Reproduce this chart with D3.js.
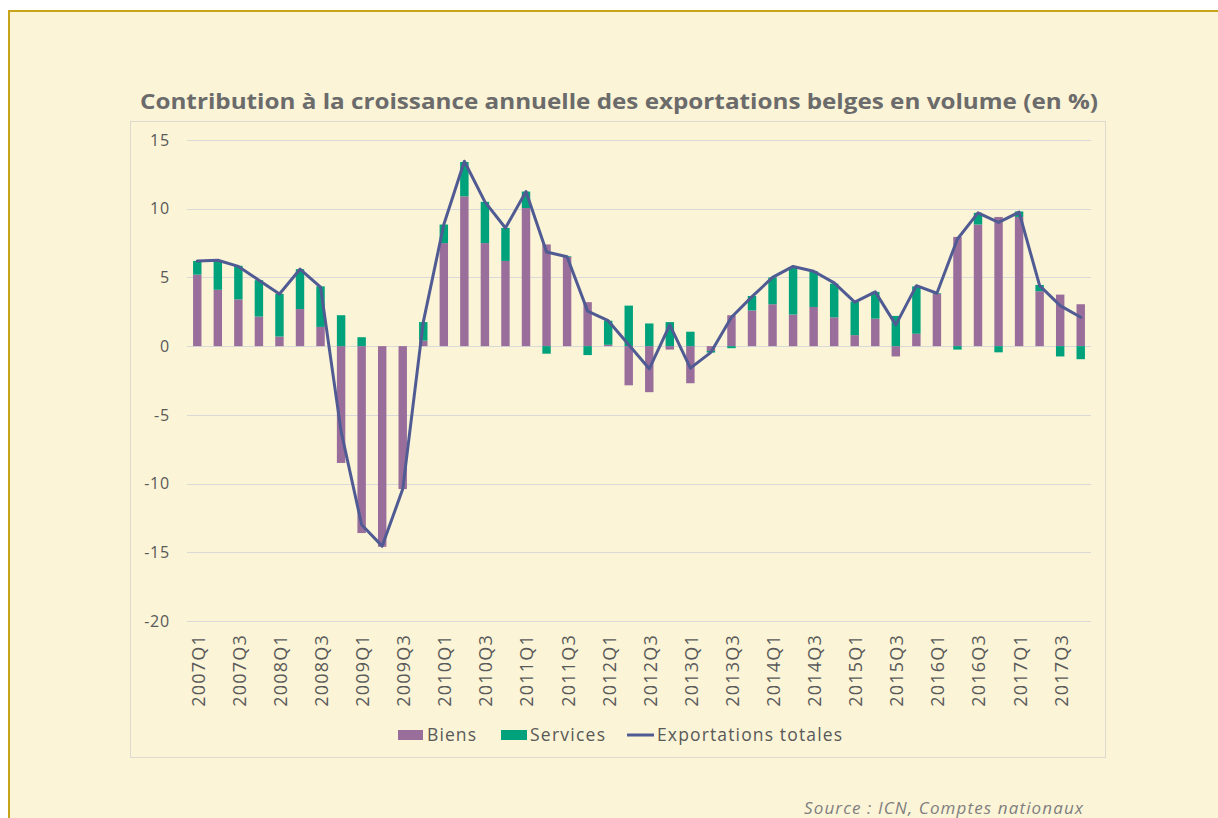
<!DOCTYPE html>
<html lang="fr">
<head>
    <meta charset="UTF-8">
    <title>Exportations belges</title>
    <script src="https://d3js.org/d3.v7.min.js"></script>
</head>
<style>
    html, body {
        margin: 0;
        padding: 0;
        background: #fff;
    }
    text {
        font-family: "Open Sans", sans-serif;
    }
</style>
<body>
<svg id="chart" width="1218" height="818"></svg>

<script>
    // data
    var quarters = [
        '2007Q1', '2007Q2', '2007Q3', '2007Q4',
        '2008Q1', '2008Q2', '2008Q3', '2008Q4',
        '2009Q1', '2009Q2', '2009Q3', '2009Q4',
        '2010Q1', '2010Q2', '2010Q3', '2010Q4',
        '2011Q1', '2011Q2', '2011Q3', '2011Q4',
        '2012Q1', '2012Q2', '2012Q3', '2012Q4',
        '2013Q1', '2013Q2', '2013Q3', '2013Q4',
        '2014Q1', '2014Q2', '2014Q3', '2014Q4',
        '2015Q1', '2015Q2', '2015Q3', '2015Q4',
        '2016Q1', '2016Q2', '2016Q3', '2016Q4',
        '2017Q1', '2017Q2', '2017Q3', '2017Q4'
    ]
    var biens = [
        5.2, 4.1, 3.4, 2.15,
        0.7, 2.7, 1.4, -8.5,
        -13.6, -14.6, -10.4, 0.4,
        7.5, 10.9, 7.5, 6.2,
        10.05, 7.4, 6.5, 3.2,
        0.1, -2.85, -3.35, -0.25,
        -2.7, -0.35, 2.25, 2.6,
        3.05, 2.3, 2.85, 2.1,
        0.8, 2.0, -0.75, 0.9,
        3.8, 7.95, 8.85, 9.4,
        9.4, 4.0, 3.75, 3.05
    ]
    var services = [
        1.0, 2.1, 2.45, 2.65,
        3.1, 2.9, 2.95, 2.25,
        0.65, 0, 0, 1.35,
        1.35, 2.5, 3.0, 2.4,
        1.2, -0.55, 0.05, -0.65,
        1.75, 2.95, 1.65, 1.75,
        1.05, -0.12, -0.15, 1.05,
        1.95, 3.45, 2.6, 2.45,
        2.45, 1.95, 2.2, 3.45,
        0.05, -0.25, 0.85, -0.45,
        0.4, 0.45, -0.75, -0.95
    ]
    var totales = [
        6.2, 6.25, 5.8, 4.8,
        3.8, 5.6, 4.3, -6.2,
        -13.0, -14.55, -10.4, 1.75,
        8.85, 13.45, 10.5, 8.6,
        11.25, 6.85, 6.5, 2.55,
        1.85, 0.1, -1.65, 1.55,
        -1.6, -0.45, 2.1, 3.6,
        5.0, 5.8, 5.45, 4.6,
        3.2, 3.95, 1.55, 4.4,
        3.85, 7.8, 9.7, 9.0,
        9.75, 4.4, 2.95, 2.1
    ]
    var yTicks = [-20, -15, -10, -5, 0, 5, 10, 15]

    var colorBiens = '#9a6e9b'
    var colorServices = '#00a27b'
    var colorLine = '#505b93'
    var colorBg = '#fbf4d7'
    var colorText = '#595959'

    var svg = d3.select('#chart')

    // outer frame
    svg.append('rect')
        .attr('x', 9).attr('y', 11)
        .attr('width', 1230).attr('height', 830)
        .attr('fill', colorBg)
        .attr('stroke', '#c8a41a')
        .attr('stroke-width', 2)

    // chart box
    svg.append('rect')
        .attr('x', 130.5).attr('y', 121.5)
        .attr('width', 975).attr('height', 636)
        .attr('fill', colorBg)
        .attr('stroke', '#dedad0')
        .attr('stroke-width', 1)

    svg.append('text')
        .attr('x', 619).attr('y', 109)
        .attr('text-anchor', 'middle')
        .attr('fill', '#6b6b6b')
        .style('font-weight', 'bold')
        .style('font-size', '21px')
        .attr('textLength', 958)
        .attr('lengthAdjust', 'spacingAndGlyphs')
        .text('Contribution à la croissance annuelle des exportations belges en volume (en %)')

    var x = d3.scaleBand()
        .domain(quarters)
        .range([187, 1091])
        .paddingInner(0.59)
        .paddingOuter(0.295)

    var y = d3.scaleLinear()
        .domain([-20, 15])
        .range([621, 140])

    // grid lines
    svg.append('g').selectAll('line')
        .data(yTicks)
        .enter().append('line')
        .attr('x1', 187).attr('x2', 1091)
        .attr('y1', function (d) { return Math.round(y(d)) + 0.5 })
        .attr('y2', function (d) { return Math.round(y(d)) + 0.5 })
        .attr('stroke', '#d9d9d9')
        .attr('stroke-width', 1.2)

    svg.append('g').selectAll('text')
        .data(yTicks)
        .enter().append('text')
        .attr('x', 170)
        .attr('y', function (d) { return y(d) })
        .attr('dy', '0.36em')
        .attr('text-anchor', 'end')
        .attr('fill', colorText)
        .style('font-size', '16px')
        .style('letter-spacing', '0.8px')
        .text(function (d) { return d })

    // stacked bars
    var rows = quarters.map(function (q, i) {
        return {q: q, biens: biens[i], services: services[i]}
    })
    var stack = d3.stack()
        .keys(['biens', 'services'])
        .offset(d3.stackOffsetDiverging)
    var series = stack(rows)
    var colors = {biens: colorBiens, services: colorServices}

    svg.append('g').selectAll('g')
        .data(series)
        .enter().append('g')
        .attr('fill', function (s) { return colors[s.key] })
        .selectAll('rect')
        .data(function (s) { return s })
        .enter().append('rect')
        .attr('x', function (d) { return x(d.data.q) })
        .attr('width', x.bandwidth())
        .attr('y', function (d) { return y(Math.max(d[0], d[1])) })
        .attr('height', function (d) { return Math.abs(y(d[0]) - y(d[1])) })

    // total line
    var line = d3.line()
        .x(function (d, i) { return x(quarters[i]) + x.bandwidth() / 2 })
        .y(function (d) { return y(d) })

    svg.append('path')
        .datum(totales)
        .attr('d', line)
        .attr('fill', 'none')
        .attr('stroke', colorLine)
        .attr('stroke-width', 3)
        .attr('stroke-linejoin', 'round')
        .attr('stroke-linecap', 'round')

    // x labels, every second quarter
    svg.append('g').selectAll('text')
        .data(quarters.filter(function (q, i) { return i % 2 === 0 }))
        .enter().append('text')
        .attr('transform', function (q) {
            return 'translate(' + (x(q) + x.bandwidth() / 2 + 1) + ',634) rotate(-90)'
        })
        .attr('dy', '0.36em')
        .attr('text-anchor', 'end')
        .attr('fill', colorText)
        .style('font-size', '18px')
        .style('letter-spacing', '1.2px')
        .text(function (q) { return q })

    // legend
    var legend = svg.append('g')
    legend.append('rect').attr('x', 398).attr('y', 730).attr('width', 25).attr('height', 10).attr('fill', colorBiens)
    legend.append('text').attr('x', 427).attr('y', 741).attr('fill', colorText).style('font-size', '17.5px')
        .attr('textLength', 49).text('Biens')
    legend.append('rect').attr('x', 501).attr('y', 730).attr('width', 26).attr('height', 10).attr('fill', colorServices)
    legend.append('text').attr('x', 530).attr('y', 741).attr('fill', colorText).style('font-size', '17.5px')
        .attr('textLength', 75).text('Services')
    legend.append('line').attr('x1', 627).attr('x2', 654).attr('y1', 735).attr('y2', 735)
        .attr('stroke', colorLine).attr('stroke-width', 3)
    legend.append('text').attr('x', 657).attr('y', 741).attr('fill', colorText).style('font-size', '17.5px')
        .attr('textLength', 185).text('Exportations totales')

    svg.append('text')
        .attr('x', 804).attr('y', 814)
        .attr('fill', '#7f7f7f')
        .style('font-style', 'italic')
        .style('font-size', '17px')
        .attr('textLength', 279)
        .text('Source : ICN, Comptes nationaux')
</script>
</body>
</html>
